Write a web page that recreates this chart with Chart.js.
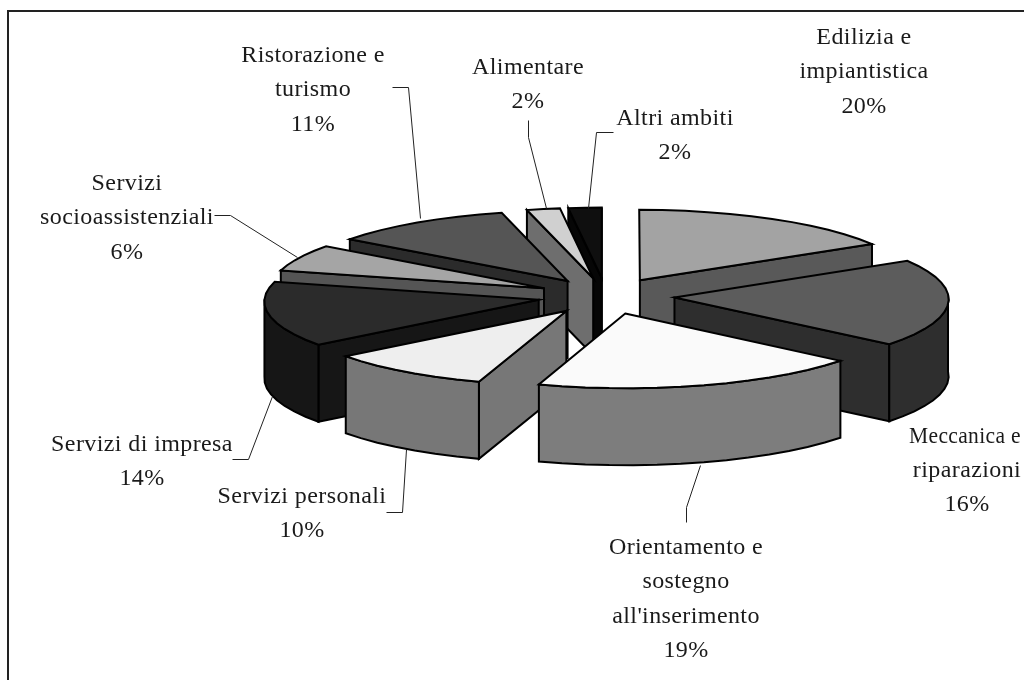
<!DOCTYPE html>
<html><head><meta charset="utf-8">
<style>html,body{margin:0;padding:0;background:#fff}canvas{display:block}</style>
<script src="https://cdn.jsdelivr.net/npm/chart.js@4"></script>
</head><body>
<canvas id="c" width="1024" height="680"></canvas>
<script>
const categories = ['Edilizia e impiantistica','Meccanica e riparazioni',"Orientamento e sostegno all'inserimento",'Servizi personali','Servizi di impresa','Servizi socioassistenziali','Ristorazione e turismo','Alimentare','Altri ambiti'];
// Percentages as printed on the labels
const printedPercent = [20,16,19,10,14,6,11,2,2];
// Slice sweeps as measured on the drawn wedges (the picture's first wedges do not quite follow their printed figures)
const sliceValues = [16.5,19.5,19,9.5,14.5,6,11,2,2];
const topColors = ['#a3a3a3','#5c5c5c','#fafafa','#eeeeee','#2b2b2b','#a5a5a5','#555555','#d0d0d0','#0f0f0f'];
const sideColors = ['#595959','#2e2e2e','#7d7d7d','#777777','#161616','#555555','#2b2b2b','#6e6e6e','#060606'];
const paintOrder = [0,8,7,6,5,4,3,1,2];
const labelLines = [['Edilizia e','impiantistica'],['Meccanica e','riparazioni'],['Orientamento e','sostegno',"all'inserimento"],['Servizi personali'],['Servizi di impresa'],['Servizi','socioassistenziali'],['Ristorazione e','turismo'],['Alimentare'],['Altri ambiti']];
const labelAnchors = [[864,38],[967,436.5],[686,548],[302,497],[142,445],[127,184],[313,56],[528,68],[675,119]];
const leaders = [[],[],[[686,522],[686,507],[700,465]],[[386,512],[402,512],[406,449]],[[232,459],[248,459],[272,396]],[[214,215],[230,215],[297,257]],[[392,87],[408,87],[420,218]],[[528,120],[528,137],[546,208]],[[613,132],[596,132],[588,208]]];
const view = {cx:606,cy:296,rx:274,ry:72.5,k:0.02,h:77};

function proj(mx,my,z){const f=1/(1+view.k*my);return [view.cx+view.rx*mx*f,view.cy-view.ry*my*f+z];}
function poly(ctx,pts,fill){ctx.beginPath();pts.forEach((p,i)=>i?ctx.lineTo(p[0],p[1]):ctx.moveTo(p[0],p[1]));ctx.closePath();ctx.fillStyle=fill;ctx.fill();ctx.stroke();}

const pie3d = {
  id:'pie3d',
  beforeDatasetDraw(chart,args){
    const ctx=chart.ctx, arcs=chart.getDatasetMeta(args.index).data;
    ctx.save();ctx.lineWidth=2;ctx.strokeStyle='#000';ctx.lineJoin='miter';
    paintOrder.forEach(i=>{
      const a=arcs[i], R=a.outerRadius, e=(a.options.offset/4)/R;
      const mid=(a.startAngle+a.endAngle)/2;
      const ox=e*Math.cos(mid), oy=-e*Math.sin(mid);
      const pt=(t,z)=>proj(ox+Math.cos(t),oy-Math.sin(t),z);
      const apex=z=>proj(ox,oy,z);
      const n=Math.max(2,Math.ceil((a.endAngle-a.startAngle)/(5*Math.PI/180)));
      const ts=[];for(let j=0;j<=n;j++)ts.push(a.startAngle+(a.endAngle-a.startAngle)*j/n);
      const h=view.h;
      const sinS=Math.sin(a.startAngle+Math.PI/2), sinE=Math.sin(a.endAngle+Math.PI/2);
      if(sinS<0) poly(ctx,[apex(0),pt(ts[0],0),pt(ts[0],h),apex(h)],sideColors[i]);
      if(sinE>0) poly(ctx,[apex(0),pt(ts[n],0),pt(ts[n],h),apex(h)],sideColors[i]);
      const front=ts.filter(t=>Math.sin(t)>-0.05);
      if(front.length>1){
        poly(ctx,front.map(t=>pt(t,0)).concat(front.slice().reverse().map(t=>pt(t,h))),sideColors[i]);
      }
      poly(ctx,[apex(0)].concat(ts.map(t=>pt(t,0))),topColors[i]);
    });
    ctx.restore();
    return false;
  },
  afterDraw(chart){
    const ctx=chart.ctx;ctx.save();
    ctx.fillStyle='#222';ctx.fillRect(7,10,2,670);ctx.fillRect(7,10,1017,2);
    ctx.strokeStyle='#222';ctx.lineWidth=1;
    leaders.forEach(l=>{if(!l.length)return;ctx.beginPath();l.forEach((p,j)=>j?ctx.lineTo(p[0]+.5,p[1]+.5):ctx.moveTo(p[0]+.5,p[1]+.5));ctx.stroke();});
    ctx.fillStyle='#1a1a1a';ctx.font='24px "Liberation Serif"';ctx.letterSpacing='0.4px';ctx.textAlign='center';ctx.textBaseline='middle';
    labelLines.forEach((lines,i)=>{
      const all=lines.concat([printedPercent[i]+'%']);
      all.forEach((t,j)=>{
        const maxW = t==='Meccanica e' ? 112 : undefined;
        const x=labelAnchors[i][0], y=labelAnchors[i][1]+j*34.2;
        if(maxW) ctx.fillText(t,x-2,y,maxW); else ctx.fillText(t,x,y);
      });
    });
    ctx.restore();
  }
};

new Chart(document.getElementById('c'),{
  type:'pie',
  data:{labels:categories,datasets:[{data:sliceValues,backgroundColor:topColors,borderColor:'#000',borderWidth:0,offset:227}]},
  options:{responsive:false,animation:false,plugins:{legend:{display:false},tooltip:{enabled:false}},layout:{padding:0}},
  plugins:[pie3d]
});
</script>
</body></html>
